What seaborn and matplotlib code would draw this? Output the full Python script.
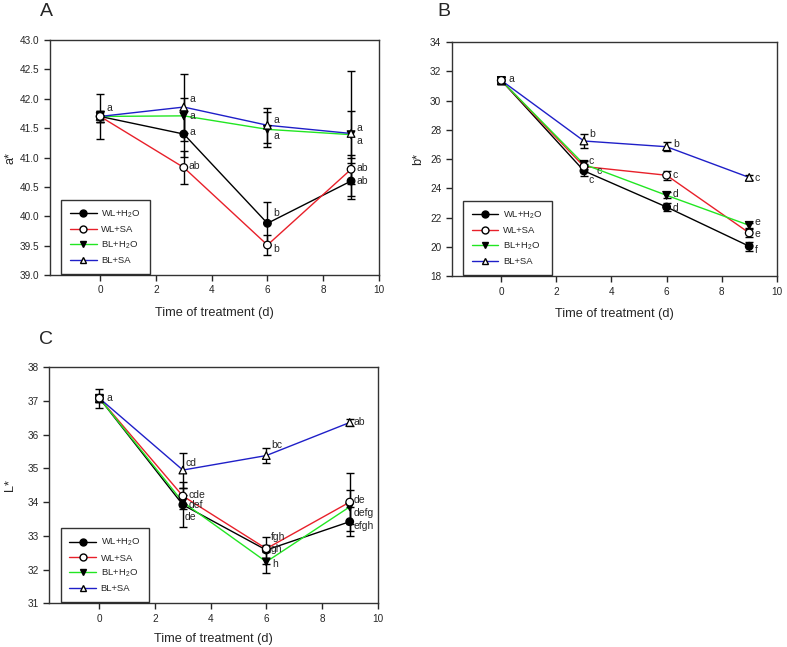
# Colour parameters of treated fruit peel (a*, b*, L*) over time
import pandas as pd
import matplotlib
matplotlib.use("Agg")
import matplotlib.pyplot as plt
from matplotlib.lines import Line2D
import seaborn as sns

# ---- data ----
days = [0, 3, 6, 9]
treatments = ["WL+H2O", "WL+SA", "BL+H2O", "BL+SA"]
legend_labels = ["WL+H$_2$O", "WL+SA", "BL+H$_2$O", "BL+SA"]

# panel A: a*
a_mean = {
    "WL+H2O": [41.70, 41.40, 39.88, 40.60],
    "WL+SA":  [41.70, 40.83, 39.51, 40.80],
    "BL+H2O": [41.70, 41.71, 41.48, 41.39],
    "BL+SA":  [41.70, 41.86, 41.55, 41.41],
}
a_err = {
    "WL+H2O": [0.10, 0.39, 0.37, 0.30],
    "WL+SA":  [0.10, 0.28, 0.17, 0.25],
    "BL+H2O": [0.10, 0.30, 0.30, 0.40],
    "BL+SA":  [0.39, 0.57, 0.30, 1.07],
}
a_letters = {
    "WL+H2O": ["", "a", "b", "ab"],
    "WL+SA":  ["", "ab", "b", "ab"],
    "BL+H2O": ["", "a", "a", "a"],
    "BL+SA":  ["a", "a", "a", "a"],
}

# panel B: b*
b_mean = {
    "WL+H2O": [31.38, 25.20, 22.73, 20.05],
    "WL+SA":  [31.38, 25.50, 24.90, 20.96],
    "BL+H2O": [31.38, 25.65, 23.53, 21.48],
    "BL+SA":  [31.38, 27.24, 26.85, 24.75],
}
b_err = {
    "WL+H2O": [0.25, 0.35, 0.30, 0.30],
    "WL+SA":  [0.25, 0.20, 0.30, 0.30],
    "BL+H2O": [0.25, 0.20, 0.20, 0.15],
    "BL+SA":  [0.25, 0.50, 0.30, 0.20],
}
b_letters = {
    "WL+H2O": ["", "c", "d", "f"],
    "WL+SA":  ["", "c", "c", "e"],
    "BL+H2O": ["", "c", "d", "e"],
    "BL+SA":  ["a", "b", "b", "c"],
}

# panel C: L*
l_mean = {
    "WL+H2O": [37.08, 33.92, 32.58, 33.42],
    "WL+SA":  [37.08, 34.18, 32.62, 34.00],
    "BL+H2O": [37.08, 34.00, 32.23, 33.86],
    "BL+SA":  [37.08, 34.95, 35.38, 36.36],
}
l_err = {
    "WL+H2O": [0.10, 0.67, 0.40, 0.43],
    "WL+SA":  [0.28, 0.25, 0.10, 0.87],
    "BL+H2O": [0.10, 0.20, 0.33, 0.50],
    "BL+SA":  [0.10, 0.52, 0.22, 0.10],
}
l_letters = {
    "WL+H2O": ["", "de", "fgh", "efgh"],
    "WL+SA":  ["a", "cde", "gh", "de"],
    "BL+H2O": ["", "def", "h", "defg"],
    "BL+SA":  ["", "cd", "bc", "ab"],
}

# ---- styling ----
line_colors = {"WL+H2O": "#000000", "WL+SA": "#e8202a",
               "BL+H2O": "#22e622", "BL+SA": "#1f1fc8"}
face_colors = {"WL+H2O": "#000000", "WL+SA": "#ffffff",
               "BL+H2O": "#000000", "BL+SA": "#ffffff"}
marker_map = {"WL+H2O": "o", "WL+SA": "o", "BL+H2O": "v", "BL+SA": "^"}
marker_order = ["WL+H2O", "BL+H2O", "BL+SA", "WL+SA"]  # WL+SA drawn on top

# letter nudges (x, y) in data units, keyed by panel / treatment / day index
nudge = {
    "A": {"WL+H2O": [(0.2, 0), (0.2, 0.03), (0.2, 0.18), (0.2, 0.0)],
          "WL+SA":  [(0.2, 0), (0.18, 0.03), (0.2, -0.06), (0.2, 0.03)],
          "BL+H2O": [(0.2, 0), (0.22, 0.0), (0.2, -0.11), (0.2, -0.1)],
          "BL+SA":  [(0.22, 0.15), (0.22, 0.14), (0.2, 0.09), (0.2, 0.1)]},
    "B": {"WL+H2O": [(0.2, 0), (0.17, -0.65), (0.22, -0.05), (0.2, -0.27)],
          "WL+SA":  [(0.2, 0), (0.45, -0.33), (0.2, 0.05), (0.2, -0.1)],
          "BL+H2O": [(0.2, 0), (0.18, 0.2), (0.22, 0.08), (0.2, 0.2)],
          "BL+SA":  [(0.26, 0.12), (0.2, 0.5), (0.25, 0.2), (0.2, -0.03)]},
    "C": {"WL+H2O": [(0.2, 0), (0.05, -0.35), (0.15, 0.4), (0.15, -0.12)],
          "WL+SA":  [(0.26, 0.0), (0.2, 0.04), (0.15, -0.02), (0.15, 0.07)],
          "BL+H2O": [(0.2, 0), (0.2, -0.1), (0.2, -0.05), (0.15, -0.17)],
          "BL+SA":  [(0.2, 0), (0.1, 0.22), (0.17, 0.3), (0.15, 0.01)]},
}


def long_frame(means, errs):
    rows = []
    for t in treatments:
        for i, d in enumerate(days):
            rows.append({"day": d, "treatment": t, "value": means[t][i], "err": errs[t][i]})
    return pd.DataFrame(rows)


def draw_panel(ax, key, means, errs, letters, ylim, yticks, yfmt, ylabel, ylab_x, xlab_y):
    df = long_frame(means, errs)
    sns.lineplot(data=df, x="day", y="value", hue="treatment", hue_order=treatments,
                 palette=line_colors, errorbar=None, linewidth=1.0, legend=False,
                 ax=ax, zorder=2)
    for t in treatments:
        sub = df[df["treatment"] == t]
        ax.errorbar(sub["day"], sub["value"], yerr=sub["err"], fmt="none",
                    ecolor="black", elinewidth=1.0, capsize=3, capthick=1.0, zorder=3)
    mk = df.copy()
    mk["treatment"] = pd.Categorical(mk["treatment"], categories=marker_order, ordered=True)
    mk = mk.sort_values(["treatment", "day"])
    mk["treatment"] = mk["treatment"].astype(str)
    sns.scatterplot(data=mk, x="day", y="value", hue="treatment", hue_order=treatments,
                    palette=face_colors, style="treatment", markers=marker_map,
                    edgecolor="black", linewidth=0.9, s=30, legend=False, ax=ax, zorder=4)
    for t in treatments:
        for i, d in enumerate(days):
            txt = letters[t][i]
            if txt:
                dx, dy = nudge[key][t][i]
                ax.text(d + dx, means[t][i] + dy, txt, fontsize=7.5,
                        ha="left", va="center", zorder=5)

    ax.set_xlim(-1.8, 10)
    ax.set_xticks([0, 2, 4, 6, 8, 10])
    ax.set_ylim(*ylim)
    ax.set_yticks(yticks)
    ax.set_yticklabels([yfmt.format(v) for v in yticks])
    ax.tick_params(direction="out", length=4, width=1, labelsize=7.2, top=False, right=False)
    ax.set_xlabel("Time of treatment (d)", fontsize=9.2, va="center")
    ax.set_ylabel(ylabel, fontsize=9.2, va="center")
    ax.yaxis.set_label_coords(ylab_x, 0.5)
    ax.xaxis.set_label_coords(0.5, xlab_y)
    for sp in ax.spines.values():
        sp.set_linewidth(1.0)
        sp.set_color("#333333")

    handles = [Line2D([0], [0], color=line_colors[t], lw=1.0, marker=marker_map[t],
                      markerfacecolor=face_colors[t], markeredgecolor="black",
                      markersize=5) for t in treatments]
    leg = ax.legend(handles, legend_labels, loc="lower left",
                    bbox_to_anchor=(0.034, 0.004), prop={"size": 6.8}, frameon=True,
                    fancybox=False, edgecolor="black", handlelength=2.8,
                    labelspacing=0.55, borderpad=0.95, handletextpad=0.5,
                    borderaxespad=0)
    leg.get_frame().set_linewidth(1.0)


sns.set_style("ticks")
plt.rcParams["font.family"] = ["Liberation Sans", "DejaVu Sans"]
plt.rcParams["mathtext.fontset"] = "custom"
plt.rcParams["mathtext.rm"] = "Liberation Sans"
plt.rcParams["mathtext.it"] = "Liberation Sans:italic"
plt.rcParams["mathtext.bf"] = "Liberation Sans:bold"

fig = plt.figure(figsize=(7.87, 6.47), dpi=100)
axA = fig.add_axes([0.0635, 0.575, 0.418, 0.363])
axB = fig.add_axes([0.574, 0.573, 0.413, 0.362])
axC = fig.add_axes([0.0627, 0.0675, 0.417, 0.365])

draw_panel(axA, "A", a_mean, a_err, a_letters, (39, 43),
           [39.0, 39.5, 40.0, 40.5, 41.0, 41.5, 42.0, 42.5, 43.0], "{:.1f}", "a*",
           -0.12, -0.16)
draw_panel(axB, "B", b_mean, b_err, b_letters, (18, 34),
           [18, 20, 22, 24, 26, 28, 30, 32, 34], "{:.0f}", "b*", -0.104, -0.162)
draw_panel(axC, "C", l_mean, l_err, l_letters, (31, 38),
           [31, 32, 33, 34, 35, 36, 37, 38], "{:.0f}", "L*", -0.12, -0.151)

fig.text(46 / 787, 1 - 11 / 647, "A", fontsize=14, ha="center", va="center")
fig.text(444 / 787, 1 - 11 / 647, "B", fontsize=14, ha="center", va="center")
fig.text(46 / 787, 1 - 340 / 647, "C", fontsize=14, ha="center", va="center")

fig.savefig("out.png", dpi=100)
